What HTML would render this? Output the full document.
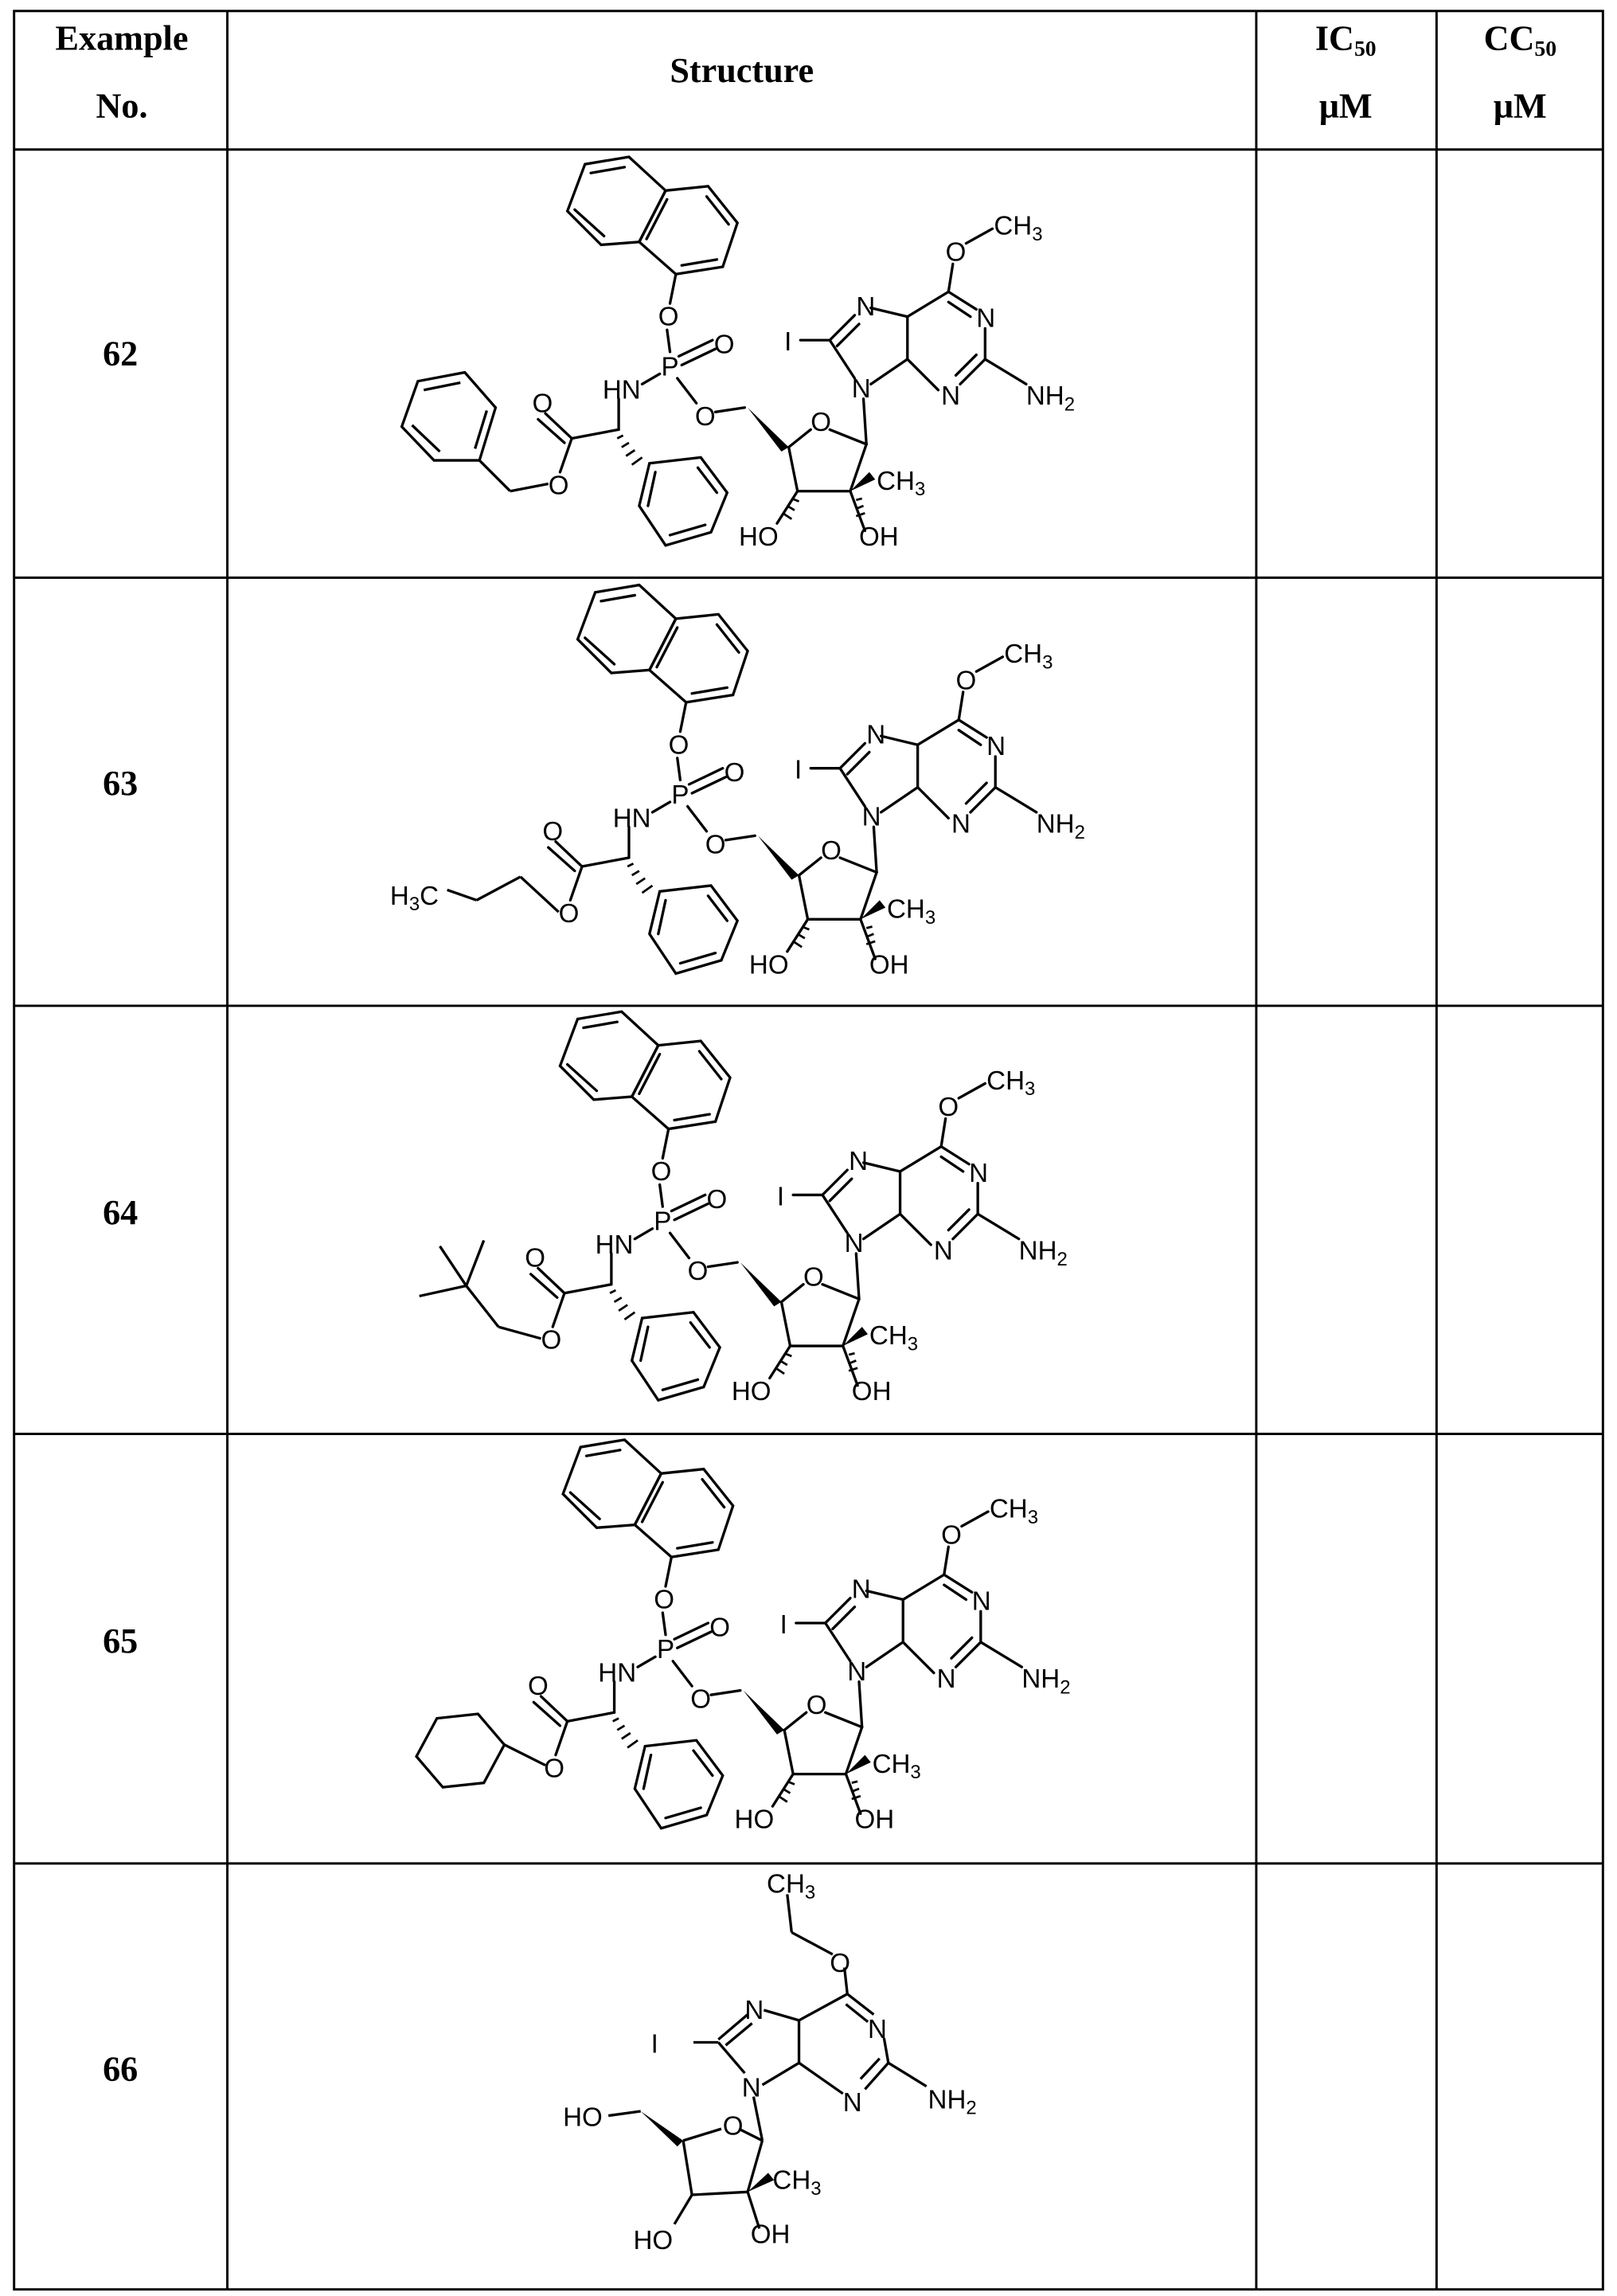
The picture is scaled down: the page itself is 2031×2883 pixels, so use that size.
<!DOCTYPE html>
<html><head><meta charset="utf-8"><style>
html,body{margin:0;padding:0;background:#fff}
svg{display:block}
text{font-family:"Liberation Sans",sans-serif;font-size:18px;fill:#000}
.h{font-family:"Liberation Serif",serif;font-weight:bold;font-size:24px;text-anchor:middle}
.n{font-family:"Liberation Serif",serif;font-weight:bold;font-size:24px;text-anchor:middle}
</style></head><body>
<svg width="2031" height="2883" viewBox="0 0 1103 1566" xmlns="http://www.w3.org/2000/svg">
<g stroke="#000" stroke-width="1.6" fill="none">
<rect x="9.5" y="7.5" width="1084" height="1554"/>
<line x1="155" y1="7.5" x2="155" y2="1562"/>
<line x1="857" y1="7.5" x2="857" y2="1562"/>
<line x1="980" y1="7.5" x2="980" y2="1562"/>
<line x1="9.5" y1="102" x2="1093" y2="102"/>
<line x1="9.5" y1="394" x2="1093" y2="394"/>
<line x1="9.5" y1="686" x2="1093" y2="686"/>
<line x1="9.5" y1="978" x2="1093" y2="978"/>
<line x1="9.5" y1="1271" x2="1093" y2="1271"/>
</g>
<text class="h" x="83" y="34">Example</text>
<text class="h" x="83" y="80">No.</text>
<text class="h" x="506" y="56">Structure</text>
<text class="h" x="918" y="34">IC<tspan font-size="15" dy="4">50</tspan></text>
<text class="h" x="918" y="80">μM</text>
<text class="h" x="1037" y="34">CC<tspan font-size="15" dy="4">50</tspan></text>
<text class="h" x="1037" y="80">μM</text>
<text class="n" x="82" y="249">62</text>
<text class="n" x="82" y="542">63</text>
<text class="n" x="82" y="835">64</text>
<text class="n" x="82" y="1127">65</text>
<text class="n" x="82" y="1419">66</text>

<defs>
<g id="core">
<g stroke="#000" stroke-width="1.8" fill="none" stroke-linecap="round">
<polygon points="399,112 429,107 454,130 436,165 410,167 387,144"/>
<polygon points="454,130 483,127 503,152 493,182 461,187 436,165"/>
<line x1="403" y1="118" x2="426" y2="114"/><line x1="392" y1="143" x2="412" y2="161"/>
<line x1="482" y1="134" x2="497" y2="153"/><line x1="465" y1="181" x2="489" y2="177"/><line x1="441" y1="163" x2="455" y2="136"/>
<line x1="461" y1="187" x2="457" y2="207"/>
<line x1="455" y1="225" x2="457" y2="240"/>
<line x1="463" y1="243" x2="486" y2="232"/><line x1="465" y1="249" x2="488" y2="238"/>
<line x1="450" y1="255" x2="438" y2="262"/>
<line x1="462" y1="258" x2="475" y2="275"/>
<line x1="488" y1="281" x2="508" y2="278"/>
<line x1="422" y1="272" x2="422" y2="293"/>
<line x1="422" y1="293" x2="390" y2="299"/>
<line x1="390" y1="299" x2="372" y2="282"/><line x1="385" y1="302" x2="367" y2="286"/>
<line x1="390" y1="299" x2="382" y2="322"/>
<polygon points="443,316 478,312 496,336 485,363 454,372 436,345"/>
<line x1="476" y1="319" x2="489" y2="336"/><line x1="457" y1="365" x2="481" y2="358"/><line x1="442" y1="345" x2="447" y2="322"/>
<line x1="538" y1="305" x2="553" y2="293"/>
<line x1="566" y1="293" x2="591" y2="303"/>
<line x1="591" y1="303" x2="580" y2="335"/>
<line x1="580" y1="335" x2="544" y2="335"/>
<line x1="544" y1="335" x2="538" y2="305"/>
<line x1="591" y1="303" x2="589" y2="272"/>
<line x1="566" y1="232" x2="583" y2="215"/><line x1="571" y1="236" x2="586" y2="221"/>
<line x1="566" y1="232" x2="583" y2="258"/>
<line x1="546" y1="232" x2="566" y2="232"/>
<line x1="594" y1="210" x2="619" y2="216"/>
<line x1="619" y1="216" x2="619" y2="245"/>
<line x1="619" y1="245" x2="594" y2="262"/>
<line x1="619" y1="216" x2="647" y2="199"/>
<line x1="647" y1="199" x2="666" y2="211"/><line x1="647" y1="206" x2="662" y2="216"/>
<line x1="672" y1="224" x2="672" y2="245"/>
<line x1="672" y1="245" x2="655" y2="262"/><line x1="666" y1="242" x2="652" y2="256"/>
<line x1="640" y1="266" x2="619" y2="245"/>
<line x1="672" y1="245" x2="700" y2="262"/>
<line x1="647" y1="199" x2="650" y2="180"/>
<line x1="659" y1="166" x2="677" y2="156"/>
<line x1="580" y1="335" x2="590" y2="362"/>
<line x1="544" y1="335" x2="530" y2="357"/>
</g>
<polygon points="510,278 538,305 533,308" fill="#000"/>
<polygon points="580,335 593,322 597,327" fill="#000"/>
<g stroke="#000" stroke-width="1.5">
<line x1="425" y1="297" x2="421" y2="299"/><line x1="429" y1="302" x2="424" y2="305"/><line x1="433" y1="307" x2="427" y2="311"/><line x1="438" y1="312" x2="431" y2="317"/>
<line x1="588" y1="340" x2="584" y2="341"/><line x1="589" y1="345" x2="584" y2="347"/><line x1="590" y1="350" x2="584" y2="352"/>
<line x1="540" y1="340" x2="545" y2="342"/><line x1="537" y1="345" x2="542" y2="348"/><line x1="534" y1="350" x2="540" y2="354"/>
</g>
<text x="449" y="222">O</text>
<text x="451" y="256">P</text>
<text x="487" y="241">O</text>
<text x="411" y="272">HN</text>
<text x="474" y="290">O</text>
<text x="553" y="294">O</text>
<text x="363" y="281">O</text>
<text x="374" y="337">O</text>
<text x="581" y="271">N</text>
<text x="584" y="215">N</text>
<text x="535" y="239">I</text>
<text x="666" y="223">N</text>
<text x="642" y="276">N</text>
<text x="700" y="276">NH<tspan font-size="13" dy="4">2</tspan></text>
<text x="645" y="178">O</text>
<text x="678" y="160">CH<tspan font-size="13" dy="4">3</tspan></text>
<text x="598" y="334">CH<tspan font-size="13" dy="4">3</tspan></text>
<text x="504" y="372">HO</text>
<text x="586" y="372">OH</text>
</g>
</defs>

<use href="#core"/>
<g stroke="#000" stroke-width="1.8" fill="none">
<line x1="374" y1="330" x2="348" y2="335"/><line x1="348" y1="335" x2="327" y2="314"/>
<polygon points="327,314 296,314 274,291 285,260 317,254 338,278"/>
<line x1="300" y1="308" x2="281" y2="290"/><line x1="289" y1="266" x2="314" y2="261"/><line x1="332" y1="280" x2="324" y2="306"/>
</g>

<use href="#core" transform="translate(7,292)"/>
<g stroke="#000" stroke-width="1.8" fill="none">
<line x1="381" y1="622" x2="355" y2="598"/><line x1="355" y1="598" x2="325" y2="614"/><line x1="325" y1="614" x2="305" y2="607"/>
</g>
<text x="266" y="617">H<tspan font-size="13" dy="4">3</tspan><tspan dy="-4">C</tspan></text>

<use href="#core" transform="translate(-5,583)"/>
<g stroke="#000" stroke-width="1.8" fill="none">
<line x1="369" y1="913" x2="340" y2="905"/><line x1="340" y1="905" x2="318" y2="877"/>
<line x1="318" y1="877" x2="286" y2="884"/><line x1="318" y1="877" x2="300" y2="850"/><line x1="318" y1="877" x2="330" y2="846"/>
</g>

<use href="#core" transform="translate(-3,875)"/>
<g stroke="#000" stroke-width="1.8" fill="none">
<line x1="372" y1="1204" x2="344" y2="1190"/>
<polygon points="344,1190 330,1216 302,1219 284,1198 298,1172 326,1169"/>
</g>

<g stroke="#000" stroke-width="1.8" fill="none">
<line x1="537" y1="1292" x2="540" y2="1318"/><line x1="540" y1="1318" x2="568" y2="1333"/>
<line x1="576" y1="1342" x2="578" y2="1360"/>
<line x1="578" y1="1360" x2="545" y2="1378"/>
<line x1="578" y1="1360" x2="596" y2="1374"/><line x1="577" y1="1367" x2="592" y2="1379"/>
<line x1="603" y1="1390" x2="606" y2="1407"/>
<line x1="606" y1="1407" x2="590" y2="1425"/><line x1="600" y1="1404" x2="587" y2="1418"/>
<line x1="575" y1="1428" x2="545" y2="1407"/>
<line x1="606" y1="1407" x2="632" y2="1423"/>
<line x1="545" y1="1378" x2="545" y2="1407"/>
<line x1="545" y1="1378" x2="521" y2="1371"/>
<line x1="510" y1="1374" x2="490" y2="1391"/><line x1="513" y1="1380" x2="495" y2="1395"/>
<line x1="490" y1="1393" x2="508" y2="1414"/>
<line x1="473" y1="1393" x2="490" y2="1393"/>
<line x1="545" y1="1407" x2="520" y2="1422"/>
<line x1="514" y1="1430" x2="520" y2="1460"/>
<line x1="520" y1="1460" x2="504" y2="1452"/>
<line x1="492" y1="1452" x2="466" y2="1460"/>
<line x1="520" y1="1460" x2="510" y2="1495"/>
<line x1="510" y1="1495" x2="472" y2="1497"/>
<line x1="472" y1="1497" x2="466" y2="1460"/>
<line x1="437" y1="1440" x2="415" y2="1443"/>
<line x1="510" y1="1495" x2="518" y2="1520"/>
<line x1="472" y1="1497" x2="460" y2="1517"/>
</g>
<polygon points="437,1440 466,1460 462,1464" fill="#000"/>
<polygon points="510,1495 524,1482 528,1487" fill="#000"/>
<text x="523" y="1291">CH<tspan font-size="13" dy="4">3</tspan></text>
<text x="566" y="1345">O</text>
<text x="592" y="1390">N</text>
<text x="575" y="1440">N</text>
<text x="633" y="1438">NH<tspan font-size="13" dy="4">2</tspan></text>
<text x="508" y="1377">N</text>
<text x="444" y="1400">I</text>
<text x="506" y="1430">N</text>
<text x="493" y="1456">O</text>
<text x="384" y="1450">HO</text>
<text x="527" y="1493">CH<tspan font-size="13" dy="4">3</tspan></text>
<text x="432" y="1534">HO</text>
<text x="512" y="1530">OH</text>
</svg>
</body></html>
